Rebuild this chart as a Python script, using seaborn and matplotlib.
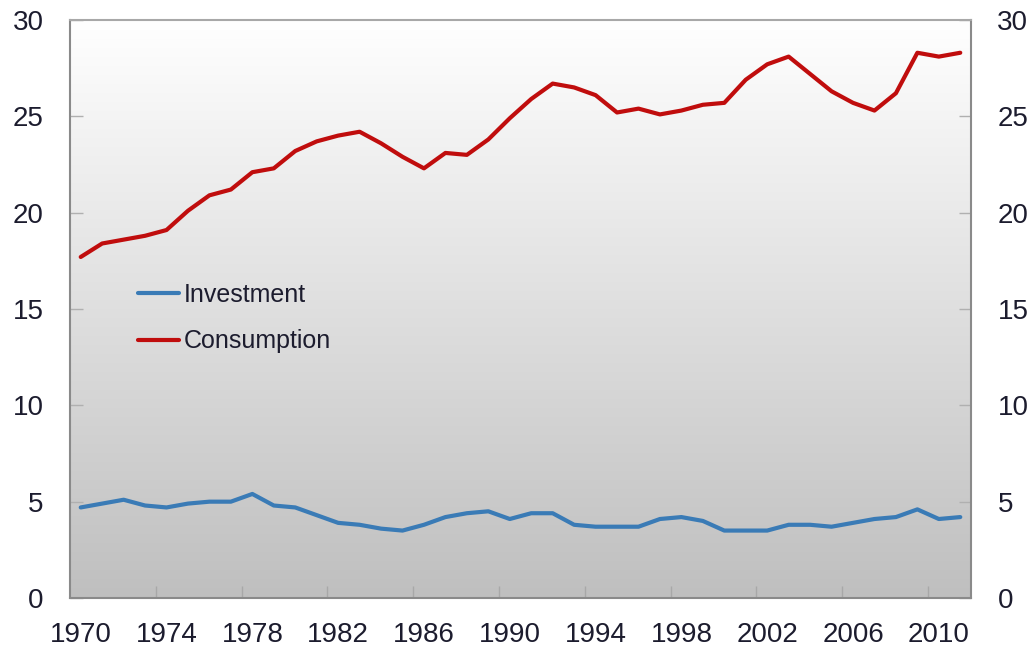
import numpy as np
import pandas as pd
import matplotlib.pyplot as plt
import seaborn as sns
from matplotlib.colors import LinearSegmentedColormap

sns.set_style("white")
plt.rcParams['font.family'] = ['Liberation Sans', 'DejaVu Sans']

years = list(range(1970, 2012))
investment = [4.7, 4.9, 5.1, 4.8, 4.7, 4.9, 5.0, 5.0, 5.4, 4.8,
              4.7, 4.3, 3.9, 3.8, 3.6, 3.5, 3.8, 4.2, 4.4, 4.5,
              4.1, 4.4, 4.4, 3.8, 3.7, 3.7, 3.7, 4.1, 4.2, 4.0,
              3.5, 3.5, 3.5, 3.8, 3.8, 3.7, 3.9, 4.1, 4.2, 4.6,
              4.1, 4.2]
consumption = [17.7, 18.4, 18.6, 18.8, 19.1, 20.1, 20.9, 21.2, 22.1, 22.3,
               23.2, 23.7, 24.0, 24.2, 23.6, 22.9, 22.3, 23.1, 23.0, 23.8,
               24.9, 25.9, 26.7, 26.5, 26.1, 25.2, 25.4, 25.1, 25.3, 25.6,
               25.7, 26.9, 27.7, 28.1, 27.2, 26.3, 25.7, 25.3, 26.2, 28.3,
               28.1, 28.3]
y_ticks = [0, 5, 10, 15, 20, 25, 30]
x_ticks = list(range(1970, 2011, 4))

df = pd.DataFrame({
    "year": years * 2,
    "value": investment + consumption,
    "series": ["Investment"] * len(years) + ["Consumption"] * len(years),
})

fig = plt.figure(figsize=(10.35, 6.5), dpi=100)
ax = fig.add_axes([70 / 1035, 1 - 598 / 650, 901 / 1035, 578 / 650])

# grey vertical gradient behind the lines
grad = np.linspace(1, 0, 256).reshape(-1, 1)
bg_cmap = LinearSegmentedColormap.from_list("bg", ["#bfbfbf", "#ffffff"])
ax.imshow(grad, cmap=bg_cmap, aspect="auto", extent=[0, 1, 0, 1],
          transform=ax.transAxes, zorder=0)

sns.lineplot(data=df, x="year", y="value", hue="series",
             palette={"Investment": "#3a7bb6", "Consumption": "#c00d0d"},
             linewidth=3, ax=ax, zorder=3)

ax.set_xlim(1969.5, 2011.5)
ax.set_ylim(0, 30)
ax.set_xlabel("")
ax.set_ylabel("")

ax.set_yticks(y_ticks)
ax.set_xticks(x_ticks)
ax.set_xticks([x - 0.5 for x in x_ticks[1:]], minor=True)
ax.tick_params(axis="x", which="major", length=0, pad=17, labelsize=20,
               labelcolor="#1c1c2e")
ax.tick_params(axis="x", which="minor", direction="in", length=9,
               color="#a8a8a8", width=1, bottom=True)
ax.tick_params(axis="y", direction="in", length=9, width=1, color="#b0b0b0",
               left=True, right=True, labelleft=True, labelright=True,
               pad=19, labelsize=20, labelcolor="#1c1c2e")

for side in ["left", "bottom", "right"]:
    ax.spines[side].set_color("#8a8a8a")
    ax.spines[side].set_linewidth(1.5)
ax.spines["top"].set_color("#a8a8a8")
ax.spines["top"].set_linewidth(1.5)

handles, labels = ax.get_legend_handles_labels()
ax.legend(handles, labels, loc="upper left", bbox_to_anchor=(0.075, 0.545),
          frameon=False, fontsize=18, handlelength=1.65, handletextpad=0.2,
          labelspacing=0.9, borderpad=0, borderaxespad=0, labelcolor="#1c1c2e")

fig.savefig("out.png", dpi=100)
